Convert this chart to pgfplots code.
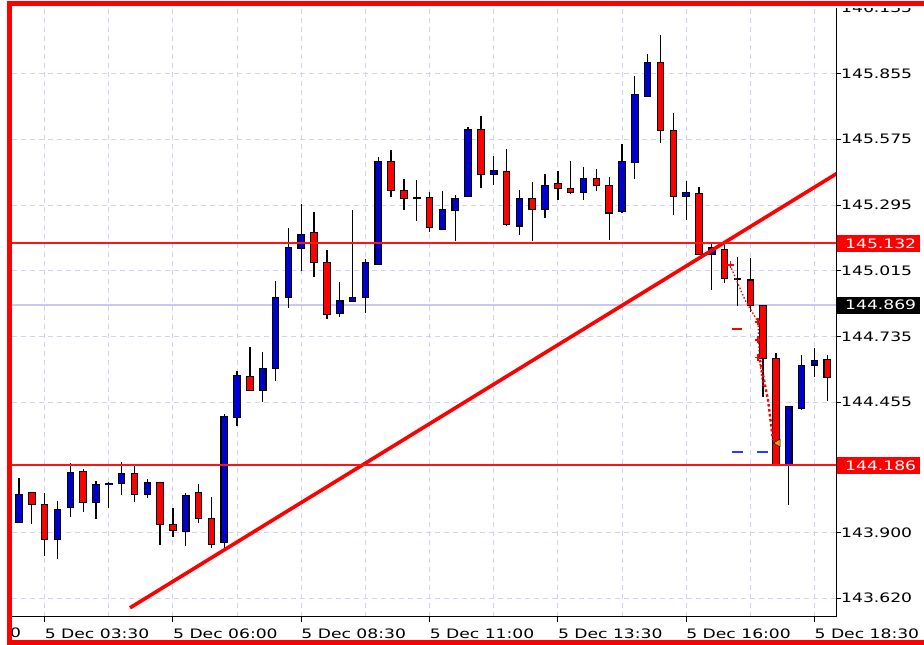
\documentclass[border=0pt]{standalone}
\usepackage{pgfplots}
\pgfplotsset{compat=1.18}
\usepackage{pgfplotstable}
\usepackage{fontspec}
\setmainfont{DejaVu Sans}
\usepackage{graphicx}

\definecolor{bullc}{RGB}{0,0,205}
\definecolor{bearc}{RGB}{255,0,0}
\definecolor{lvlred}{RGB}{255,20,20}
\definecolor{gridc}{RGB}{210,210,242}
\definecolor{bidc}{RGB}{200,200,242}
\definecolor{goldc}{RGB}{218,165,32}
\definecolor{dashblue}{RGB}{40,60,255}
\newcommand{\lbl}[1]{\scalebox{1.32}[1]{#1}}
\newcommand{\lblfont}{\fontsize{13}{15}\selectfont}

\pgfplotstableread{
x O H L C
-2 143.945 144.134 143.944 144.064
1 143.871 144.036 143.787 144.000
2 144.006 144.195 143.965 144.158
4 144.029 144.120 143.958 144.104
5 144.105 144.114 144.006 144.110
6 144.108 144.200 144.060 144.152
8 144.061 144.127 144.046 144.112
11 143.904 144.071 143.843 144.057
14 143.858 144.404 143.826 144.393
15 144.389 144.589 144.354 144.567
17 144.504 144.672 144.457 144.600
18 144.600 144.973 144.545 144.904
19 144.900 145.198 144.858 145.115
20 145.111 145.302 145.014 145.170
23 144.831 144.966 144.817 144.889
24 144.886 145.274 144.885 144.903
25 144.900 145.068 144.838 145.052
26 145.042 145.501 145.041 145.482
29 145.326 145.401 145.227 145.328
31 145.193 145.355 145.192 145.278
32 145.274 145.339 145.143 145.325
33 145.330 145.626 145.329 145.619
35 145.426 145.504 145.383 145.441
37 145.206 145.362 145.170 145.325
39 145.277 145.428 145.241 145.380
42 145.350 145.456 145.316 145.407
45 145.267 145.558 145.262 145.482
46 145.479 145.844 145.404 145.768
47 145.759 145.941 145.758 145.904
50 145.330 145.400 145.234 145.347
52 145.084 145.132 144.933 145.116
58 144.186 144.440 144.017 144.439
59 144.429 144.656 144.422 144.614
60 144.614 144.685 144.564 144.635
}\bull

\pgfplotstableread{
x O H L C
-1 144.070 144.071 143.936 144.020
0 144.022 144.067 143.800 143.871
3 144.159 144.169 143.986 144.029
7 144.152 144.185 144.031 144.064
9 144.112 144.113 143.847 143.932
10 143.932 144.003 143.882 143.907
12 144.070 144.107 143.942 143.959
13 143.961 144.050 143.835 143.850
16 144.567 144.691 144.505 144.507
21 145.177 145.266 144.988 145.049
22 145.052 145.103 144.809 144.831
27 145.482 145.529 145.328 145.356
28 145.359 145.407 145.274 145.322
30 145.330 145.352 145.179 145.200
34 145.619 145.675 145.369 145.426
36 145.436 145.532 145.206 145.214
38 145.325 145.396 145.143 145.277
40 145.387 145.441 145.316 145.364
41 145.366 145.484 145.345 145.350
43 145.407 145.450 145.356 145.379
44 145.380 145.416 145.146 145.262
48 145.904 146.020 145.560 145.611
49 145.611 145.688 145.255 145.330
51 145.345 145.373 145.085 145.086
53 145.106 145.133 144.961 144.983
54 144.981 145.075 144.865 144.979
55 144.976 145.068 144.841 144.869
56 144.866 144.869 144.479 144.642
57 144.642 144.663 144.186 144.187
61 144.638 144.656 144.462 144.561
}\bear

\pgfplotsset{
  ebar/.style={only marks, mark=*, mark size=0pt, mark options={draw=none, fill=none},
    error bars/.cd, y dir=both, y explicit, error mark=none,
    error bar style={#1}},
}

\begin{document}
\begin{tikzpicture}[x=1pt,y=1pt]
\begin{axis}[
  at={(12pt,28pt)}, anchor=south west,
  scale only axis, width=824pt, height=612pt,
  xmin=-2.546, xmax=61.68, ymin=143.540, ymax=146.147,
  clip mode=individual,
  axis line style={black, line width=1pt},
  tick align=outside,
  xtick pos=left, ytick pos=right,
  xticklabel pos=left, yticklabel pos=right,
  major tick length=5pt, minor tick length=0pt,
  tick style={black, line width=1pt},
  xtick={0,10,20,30,40,50,60},
  xticklabels={\lbl{5 Dec 03:30},\lbl{5 Dec 06:00},\lbl{5 Dec 08:30},\lbl{5 Dec 11:00},\lbl{5 Dec 13:30},\lbl{5 Dec 16:00},\lbl{5 Dec 18:30}},
  minor xtick={-5,5,15,25,35,45,55},
  ytick={143.620,143.900,144.455,144.735,145.015,145.295,145.575,145.855,146.135},
  yticklabels={\lbl{143.620},\lbl{143.900},\lbl{144.455},\lbl{144.735},\lbl{145.015},\lbl{145.295},\lbl{145.575},\lbl{145.855},\lbl{146.135}},
  xmajorgrids, xminorgrids, ymajorgrids,
  major grid style={gridc, line width=1pt, dash pattern=on 5pt off 4pt},
  minor grid style={gridc, line width=1pt, dash pattern=on 5pt off 4pt},
  xticklabel style={anchor=north west, inner sep=0pt, font=\lblfont, text=black, yshift=-7pt},
  yticklabel style={anchor=west, inner sep=0pt, font=\lblfont, text=black},
]
% bid line
\fill[bidc] ([yshift=-0.6pt]axis cs:-2.546,144.869) rectangle ([yshift=0.6pt]axis cs:61.68,144.869);
% wicks
\addplot[ebar={black, line width=1.3pt}] table[x=x, y expr={(\thisrow{H}+\thisrow{L})/2}, y error expr={(\thisrow{H}-\thisrow{L})/2}] {\bull};
\addplot[ebar={black, line width=1.3pt}] table[x=x, y expr={(\thisrow{H}+\thisrow{L})/2}, y error expr={(\thisrow{H}-\thisrow{L})/2}] {\bear};
% body outlines
\addplot[ebar={black, line width=7.6pt}] table[x=x, y expr={(\thisrow{O}+\thisrow{C})/2}, y error expr={abs(\thisrow{C}-\thisrow{O})/2+0.0022}] {\bull};
\addplot[ebar={black, line width=7.6pt}] table[x=x, y expr={(\thisrow{O}+\thisrow{C})/2}, y error expr={abs(\thisrow{C}-\thisrow{O})/2+0.0022}] {\bear};
% body fills
\addplot[ebar={bullc, line width=5.4pt}] table[x=x, y expr={(\thisrow{O}+\thisrow{C})/2}, y error expr={max(abs(\thisrow{C}-\thisrow{O})/2-0.0022,0)}] {\bull};
\addplot[ebar={bearc, line width=5.4pt}] table[x=x, y expr={(\thisrow{O}+\thisrow{C})/2}, y error expr={max(abs(\thisrow{C}-\thisrow{O})/2-0.0022,0)}] {\bear};
% trend line
\addplot[red, line width=3.6pt] coordinates {(6.65,143.579) (64,145.505)};
% trade overlays
\addplot[red, line width=1.3pt, dash pattern=on 1.5pt off 2pt] coordinates {(53.42,145.039) (54.59,144.890) (55.60,144.797)};
\addplot[red, line width=1.3pt, dash pattern=on 1.5pt off 2pt] coordinates {(55.60,144.797) (55.70,144.643) (56.0,144.520)};
\addplot[red, line width=2.4pt, dash pattern=on 2.5pt off 2.5pt] coordinates {(55.76,144.635) (56.38,144.464) (56.77,144.294)};
\addplot[only marks, mark=+, mark size=3.5pt, red, line width=1.6pt] coordinates {(53.45,145.040) (55.62,144.797) (55.62,144.720) (55.62,144.645)};
\addplot[red, line width=1.3pt] coordinates {(53.57,144.767) (54.35,144.767)};
\addplot[dashblue, line width=1.3pt] coordinates {(53.55,144.243) (54.40,144.243)};
\addplot[dashblue, line width=1.3pt] coordinates {(55.54,144.243) (56.40,144.243)};
\addplot[only marks, mark=triangle*, mark size=4.5pt, mark options={rotate=90, fill=goldc, draw=none}] coordinates {(57.15,144.281)};
% horizontal levels (drawn on top)
\addplot[lvlred, line width=1.6pt] coordinates {(-2.546,145.132) (30,145.132) (61.68,145.132)};
\addplot[lvlred, line width=1.6pt] coordinates {(-2.546,144.1865) (30,144.1865) (61.68,144.1865)};
% price boxes
\fill[red] (axis cs:61.68,145.132) ++(1pt,-8.5pt) rectangle ++(83pt,17pt);
\node[anchor=west, inner sep=0pt, font=\lblfont, text=white, xshift=9pt] at (axis cs:61.68,145.132) {\lbl{145.132}};
\fill[black] (axis cs:61.68,144.869) ++(1pt,-8.5pt) rectangle ++(83pt,17pt);
\node[anchor=west, inner sep=0pt, font=\lblfont, text=white, xshift=9pt] at (axis cs:61.68,144.869) {\lbl{144.869}};
\fill[red] (axis cs:61.68,144.186) ++(1pt,-8.5pt) rectangle ++(83pt,17pt);
\node[anchor=west, inner sep=0pt, font=\lblfont, text=white, xshift=9pt] at (axis cs:61.68,144.186) {\lbl{144.186}};
\end{axis}
\node[anchor=north west, inner sep=0pt, font=\lblfont] at (-83.6,17) {\lbl{5 Dec 01:00}};
\fill[white] (-100,0) rectangle (8,650);
\fill[white] (8,637) rectangle (940,650);
\draw[red, line width=5pt] (9.5,2.5) rectangle (940,641);
\pgfresetboundingbox
\path[use as bounding box] (0,0) rectangle (924,645);
\end{tikzpicture}
\end{document}
